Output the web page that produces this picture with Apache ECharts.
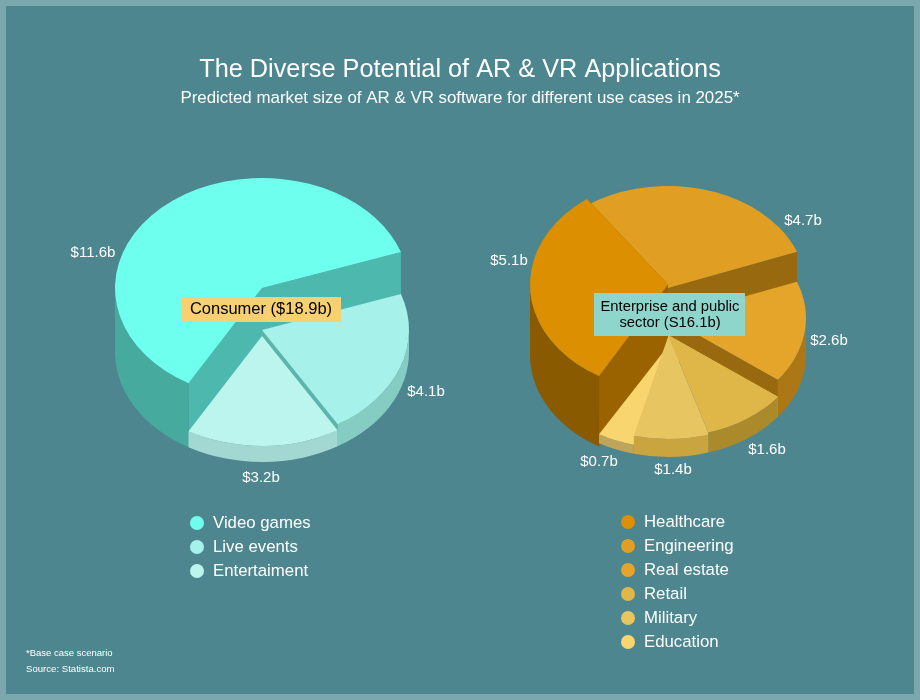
<!DOCTYPE html>
<html>
<head>
<meta charset="utf-8">
<title>AR & VR</title>
<script src="https://cdn.jsdelivr.net/npm/echarts@6/dist/echarts.min.js"></script>
<style>
  html, body { margin: 0; padding: 0; }
  #main { width: 920px; height: 700px; }
</style>
</head>
<body>
<div id="main"></div>
<script>
// data
var consumerNames = ['Video games', 'Live events', 'Entertaiment'];
var consumerValues = [11.6, 4.1, 3.2];
var enterpriseNames = ['Healthcare', 'Engineering', 'Real estate', 'Retail', 'Military', 'Education'];
var enterpriseValues = [5.1, 4.7, 2.6, 1.6, 1.4, 0.7];

// look of each pie: slices stand on one floor, each with its own height
var font = '"Liberation Sans", Arial, sans-serif';
var START_ANGLE = 240;
var pieLeft = {
  cx: 262, floorY: 352, rx: 147,
  ry: [110, 110, 110],
  topY: [288, 330, 336],
  top: ['#6fffee', '#a6f2ea', '#bbf5ee'],
  side: ['#47aa9f', '#85cdc3', '#a3d8d2'],
  cut: ['#4db8ad', '#5cb5ab', null],
  labelPos: [[93, 253], [426, 392], [261, 478]]
};
var pieRight = {
  cx: 668, floorY: 355, rx: 138,
  ry: [105.6, 102, 102, 102, 102, 102],
  topY: [284.5, 288, 318, 335, 337, 346],
  top: ['#dc8f00', '#e09f22', '#e5a52b', '#dfb648', '#e7c560', '#f8d56e'],
  side: ['#8a5a00', '#98690f', '#ac7815', '#ab8a2c', '#c9a43f', '#bfa55c'],
  // retail's wall takes the military colour so no seam opens between them
  cut: ['#9b6300', '#98690f', '#98690f', '#e7c560', null, null],
  labelPos: [[509, 261], [803, 221], [829, 341], [767, 450], [673, 470], [599, 462]]
};

function sum(arr) {
  return arr.reduce(function (a, b) { return a + b; }, 0);
}

function rimPoint(pie, y, deg, ry) {
  var r = deg * Math.PI / 180;
  return [pie.cx + pie.rx * Math.cos(r), y - ry * Math.sin(r)];
}

function arcTo(pie, ry, p, large, sweep) {
  return 'A' + pie.rx + ' ' + ry + ' 0 ' + large + ' ' + sweep + ' ' + p[0] + ' ' + p[1];
}

// flat wall from the centre out to the rim at one angle
function cutWall(pie, ry, topY, deg, floorOffset, color) {
  var a = rimPoint(pie, topY, deg, ry);
  var b = rimPoint(pie, topY + floorOffset, deg, ry);
  return {
    type: 'polygon',
    shape: { points: [[pie.cx, topY], a, b, [pie.cx, topY + floorOffset]] },
    style: { fill: color }
  };
}

// curved outer wall, only the part turned to the viewer
function sideWall(pie, ry, topY, hi, lo, floorOffset, color) {
  var a = rimPoint(pie, topY, hi, ry), b = rimPoint(pie, topY, lo, ry);
  var c = rimPoint(pie, topY + floorOffset, lo, ry), d = rimPoint(pie, topY + floorOffset, hi, ry);
  return {
    type: 'path',
    shape: {
      pathData: 'M' + a[0] + ' ' + a[1] + arcTo(pie, ry, b, 0, 1) + 'L' + c[0] + ' ' + c[1] + arcTo(pie, ry, d, 0, 0) + 'Z'
    },
    style: { fill: color }
  };
}

function sliceSeries(name, idx, values, pie) {
  var total = sum(values);
  var before = sum(values.slice(0, idx));
  var mid = START_ANGLE - (before + values[idx] / 2) / total * 360;
  return {
    type: 'custom',
    name: name,
    coordinateSystem: 'none',
    itemStyle: { color: pie.top[idx] },
    // slices further back are painted first
    z: 50 - Math.round(Math.sin(mid * Math.PI / 180) * 40),
    silent: true,
    data: [values[idx]],
    renderItem: function (params, api) {
      var val = api.value(0);
      var hi = START_ANGLE - before / total * 360;
      var lo = hi - val / total * 360;
      var ry = pie.ry[idx];
      var topY = pie.topY[idx];
      var depth = pie.floorY - topY;
      var kids = [];
      if (pie.cut[idx]) {
        kids.push(cutWall(pie, ry, topY, hi, depth, pie.cut[idx]));
        kids.push(cutWall(pie, ry, topY, lo, depth, pie.cut[idx]));
      }
      [[180, 360], [-180, 0]].forEach(function (w) {
        var h = Math.min(hi, w[1]), l = Math.max(lo, w[0]);
        if (h > l) kids.push(sideWall(pie, ry, topY, h, l, depth, pie.side[idx]));
      });
      var a = rimPoint(pie, topY, hi, ry), b = rimPoint(pie, topY, lo, ry);
      kids.push({
        type: 'path',
        shape: {
          pathData: 'M' + pie.cx + ' ' + topY + 'L' + a[0] + ' ' + a[1] + arcTo(pie, ry, b, hi - lo > 180 ? 1 : 0, 1) + 'Z'
        },
        style: { fill: pie.top[idx] }
      });
      kids.push({
        type: 'text',
        z2: 50,
        style: {
          x: pie.labelPos[idx][0], y: pie.labelPos[idx][1],
          text: '$' + val.toFixed(1) + 'b',
          fill: '#fff', font: '15px ' + font,
          align: 'center', verticalAlign: 'middle'
        }
      });
      return { type: 'group', children: kids };
    }
  };
}

var series = [];
consumerNames.forEach(function (n, i) {
  series.push(sliceSeries(n, i, consumerValues, pieLeft));
});
enterpriseNames.forEach(function (n, i) {
  series.push(sliceSeries(n, i, enterpriseValues, pieRight));
});

function legendAt(names, left, top) {
  return {
    orient: 'vertical',
    left: left,
    top: top,
    padding: 0,
    data: names,
    icon: 'circle',
    itemWidth: 14,
    itemHeight: 14,
    itemGap: 6,
    selectedMode: false,
    textStyle: { color: '#fff', fontSize: 16.8, fontFamily: font, lineHeight: 18, padding: [0, 0, 0, 4] }
  };
}

var chart = echarts.init(document.getElementById('main'));
chart.setOption({
  animation: false,
  backgroundColor: '#4d868f',
  title: {
    text: 'The Diverse Potential of AR & VR Applications',
    subtext: 'Predicted market size of AR & VR software for different use cases in 2025*',
    left: 'center',
    top: 58,
    itemGap: 7,
    padding: 0,
    textStyle: { color: '#fff', fontSize: 25.3, fontWeight: 'normal', fontFamily: font },
    subtextStyle: { color: '#fff', fontSize: 16.9, fontFamily: font }
  },
  legend: [legendAt(consumerNames, 190, 514), legendAt(enterpriseNames, 621, 513)],
  series: series,
  graphic: [
    {
      type: 'rect', silent: true, z: 1,
      shape: { x: 3, y: 3, width: 914, height: 694 },
      style: { fill: 'none', stroke: '#7ba7ae', lineWidth: 6 }
    },
    {
      type: 'rect', z: 100,
      shape: { x: 182, y: 297, width: 159, height: 25 },
      style: { fill: '#f8d070' }
    },
    {
      type: 'text', z: 101,
      style: { x: 261, y: 309, text: 'Consumer ($18.9b)', fill: '#000', font: '16.5px ' + font, align: 'center', verticalAlign: 'middle' }
    },
    {
      type: 'rect', z: 100,
      shape: { x: 594, y: 293, width: 151, height: 43 },
      style: { fill: '#8ed6cc' }
    },
    {
      type: 'text', z: 101,
      style: { x: 670, y: 315, text: 'Enterprise and public\nsector (S16.1b)', fill: '#000', font: '14.8px ' + font, lineHeight: 16, align: 'center', verticalAlign: 'middle' }
    },
    {
      type: 'text', z: 101,
      style: { x: 26, y: 653, text: '*Base case scenario', fill: '#fff', font: '9.5px ' + font, verticalAlign: 'middle' }
    },
    {
      type: 'text', z: 101,
      style: { x: 26, y: 669, text: 'Source: Statista.com', fill: '#fff', font: '9.6px ' + font, verticalAlign: 'middle' }
    }
  ]
});
</script>
</body>
</html>
